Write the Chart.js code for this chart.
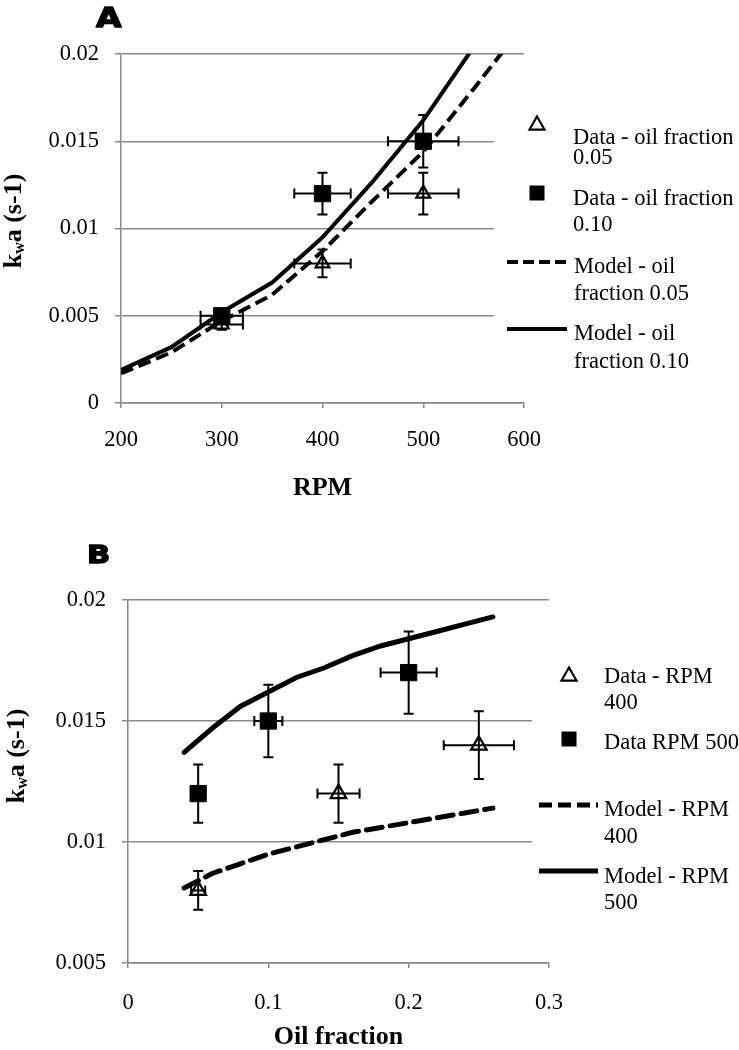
<!DOCTYPE html>
<html><head><meta charset="utf-8">
<script src="https://cdn.jsdelivr.net/npm/chart.js@4/dist/chart.umd.min.js"></script>
<style>
html,body{margin:0;padding:0;background:#fff;}
#wrap{position:relative;width:739px;height:1050px;background:#fff;}
canvas{position:absolute;left:0;}
#cA{top:0}
#cB{top:520px}
</style></head><body>
<div id="wrap">
<canvas id="cA" width="739" height="520"></canvas>
<canvas id="cB" width="739" height="530"></canvas>
</div>
<script>
// ---------- Panel A data ----------
const rpmModel      = [200, 250, 300, 350, 400, 450, 500, 550, 600];
const modelOil005   = [0.0017, 0.0029, 0.0047, 0.0062, 0.0087, 0.0116, 0.0144, 0.0180, 0.0217];
const modelOil010   = [0.0019, 0.0032, 0.0052, 0.0069, 0.0095, 0.0127, 0.0162, 0.0204, null];
const rpmData       = [300, 400, 500];
const dataOil005    = [0.0045, 0.008, 0.012];
const dataOil005Err = [0.0003, 0.0008, 0.0012];
const dataOil010    = [0.005, 0.012, 0.015];
const dataOil010Err = [0.0003, 0.0012, 0.0015];
const rpmErr        = [21, 28, 35];
const xTicksA = [200, 300, 400, 500, 600];
const yTicksA = [0, 0.005, 0.01, 0.015, 0.02];

// ---------- Panel B data ----------
const oilModel      = [0.04, 0.06, 0.08, 0.10, 0.12, 0.14, 0.16, 0.18, 0.20, 0.22, 0.24, 0.26];
const modelRpm400   = [0.0081, 0.0087, 0.0091, 0.0095, 0.0098, 0.0101, 0.0104, 0.0106, 0.0108, 0.0110, 0.0112, 0.0114];
const modelRpm500   = [0.0137, 0.0147, 0.0156, 0.0162, 0.0168, 0.0172, 0.0177, 0.0181, 0.0184, 0.0187, 0.0190, 0.0193];
const oilData400    = [0.05, 0.15, 0.25];
const dataRpm400    = [0.008, 0.012, 0.014];
const dataRpm400Err = [0.0008, 0.0012, 0.0014];
const oilErr400     = [0.005, 0.015, 0.025];
const oilData500    = [0.05, 0.10, 0.20];
const dataRpm500    = [0.012, 0.015, 0.017];
const dataRpm500Err = [0.0012, 0.0015, 0.0017];
const oilErr500     = [0.005, 0.01, 0.02];
const xTicksB = [0, 0.1, 0.2, 0.3];
const yTicksB = [0.005, 0.01, 0.015, 0.02];

const legendA = [["Data - oil fraction", "0.05"], ["Data - oil fraction", "0.10"], ["Model - oil", "fraction 0.05"], ["Model - oil", "fraction 0.10"]];
const legendB = [["Data - RPM", "400"], ["Data RPM 500"], ["Model - RPM", "400"], ["Model - RPM", "500"]];

const SERIF = "'Liberation Serif','Times New Roman',serif";
const GRAY = '#8a8a8a';

const pts = (xs, ys) => xs.map((x, i) => ({x, y: ys[i]}));

const errorBars = {
  id: 'errorBars',
  afterDatasetsDraw(chart) {
    const ctx = chart.ctx, xs = chart.scales.x, ys = chart.scales.y;
    chart.data.datasets.forEach(ds => {
      if (!ds.errX) return;
      ctx.save();
      ctx.strokeStyle = '#000';
      ctx.lineWidth = 2;
      ds.data.forEach((p, j) => {
        const cx = xs.getPixelForValue(p.x), cy = ys.getPixelForValue(p.y);
        const x1 = xs.getPixelForValue(p.x - ds.errX[j]), x2 = xs.getPixelForValue(p.x + ds.errX[j]);
        const y1 = ys.getPixelForValue(p.y + ds.errY[j]), y2 = ys.getPixelForValue(p.y - ds.errY[j]);
        const c = 5;
        ctx.beginPath();
        ctx.moveTo(x1, cy); ctx.lineTo(x2, cy);
        ctx.moveTo(x1, cy - c); ctx.lineTo(x1, cy + c);
        ctx.moveTo(x2, cy - c); ctx.lineTo(x2, cy + c);
        ctx.moveTo(cx, y1); ctx.lineTo(cx, y2);
        ctx.moveTo(cx - c, y1); ctx.lineTo(cx + c, y1);
        ctx.moveTo(cx - c, y2); ctx.lineTo(cx + c, y2);
        ctx.stroke();
      });
      ctx.restore();
    });
  }
};

function drawYTitle(ctx, x, yc, size) {
  const main = `bold ${size}px ${SERIF}`, sub = `bold ${Math.round(size * 0.62)}px ${SERIF}`;
  const parts = [['k', main, 0], ['w', sub, size * 0.12], ['a (s-1)', main, 0]];
  let w = 0;
  parts.forEach(p => { ctx.font = p[1]; w += ctx.measureText(p[0]).width; });
  ctx.save();
  ctx.translate(x, yc);
  ctx.rotate(-Math.PI / 2);
  ctx.fillStyle = '#000';
  ctx.textBaseline = 'alphabetic';
  ctx.textAlign = 'left';
  let cx = -w / 2;
  parts.forEach(p => { ctx.font = p[1]; ctx.fillText(p[0], cx, p[2]); cx += ctx.measureText(p[0]).width; });
  ctx.restore();
}

function drawTri(ctx, x, y, w) {
  const h = w * 0.87;
  ctx.save();
  ctx.beginPath();
  ctx.moveTo(x, y - h / 2); ctx.lineTo(x + w / 2, y + h / 2); ctx.lineTo(x - w / 2, y + h / 2); ctx.closePath();
  ctx.fillStyle = '#fff'; ctx.fill();
  ctx.lineWidth = 2.2; ctx.strokeStyle = '#000'; ctx.stroke();
  ctx.restore();
}
function drawSq(ctx, x, y, s) {
  ctx.fillStyle = '#000';
  ctx.fillRect(x - s / 2, y - s / 2, s, s);
}
function drawLineSym(ctx, x1, x2, y, lw, dash) {
  ctx.save();
  ctx.beginPath();
  ctx.setLineDash(dash);
  ctx.lineWidth = lw; ctx.strokeStyle = '#000';
  ctx.moveTo(x1, y); ctx.lineTo(x2, y); ctx.stroke();
  ctx.restore();
}

function overlay(cfg) {
  return {
    id: 'overlay',
    beforeDatasetsDraw(chart) {
      const ctx = chart.ctx;
      ctx.save();
      ctx.fillStyle = '#fff';
      ctx.fillRect(cfg.cover[0], cfg.cover[1], cfg.cover[2], cfg.cover[3]);
      ctx.restore();
    },
    afterDraw(chart) {
      const ctx = chart.ctx;
      const a = chart.chartArea;
      ctx.save();
      ctx.fillStyle = '#000';
      // panel letter
      ctx.save();
      ctx.translate(cfg.letter[1], cfg.letter[2]);
      ctx.scale(1.22, 1);
      ctx.font = `bold ${cfg.letter[3]}px 'DejaVu Sans', sans-serif`;
      ctx.textBaseline = 'alphabetic';
      ctx.textAlign = 'left';
      ctx.lineWidth = 1.4;
      ctx.strokeStyle = '#000';
      ctx.lineJoin = 'round';
      ctx.strokeText(cfg.letter[0], 0, 0);
      ctx.fillText(cfg.letter[0], 0, 0);
      ctx.restore();
      // x title
      ctx.font = `bold 26px ${SERIF}`;
      ctx.textAlign = 'center';
      ctx.textBaseline = 'alphabetic';
      ctx.fillText(cfg.xTitle, (a.left + a.right) / 2, cfg.xTitleY);
      // y title
      drawYTitle(ctx, cfg.yTitle[0], cfg.yTitle[1], 26);
      // legend
      ctx.textAlign = 'left';
      cfg.legend.forEach((e, i) => {
        const it = cfg.items[i];
        if (it.sym === 'tri') drawTri(ctx, it.sx, it.sy, 15);
        else if (it.sym === 'sq') drawSq(ctx, it.sx, it.sy, 15);
        else drawLineSym(ctx, it.sx, it.sx2, it.sy, it.lw, it.sym === 'dash' ? it.dash : []);
        ctx.fillStyle = '#000';
        ctx.font = `22.5px ${SERIF}`;
        e.forEach((t, k) => ctx.fillText(t, it.tx, it.ty[k]));
      });
      ctx.restore();
    }
  };
}

function makeChart(id, o) {
  return new Chart(document.getElementById(id), {
    type: 'scatter',
    data: { datasets: o.datasets },
    options: {
      responsive: false,
      animation: false,
      devicePixelRatio: 1,
      layout: { padding: { left: 0, top: o.top, right: o.right, bottom: 0 } },
      plugins: { legend: { display: false }, tooltip: { enabled: false } },
      scales: {
        x: {
          type: 'linear', min: o.xMin, max: o.xMax,
          afterBuildTicks: s => { s.ticks = o.xTicks.map(v => ({value: v})); },
          afterFit: s => { s.height = o.xH; },
          ticks: { color: '#000', font: { family: SERIF, size: 22.5 }, padding: o.xPad, maxRotation: 0, autoSkip: false, callback: v => String(v) },
          grid: { drawOnChartArea: false, drawTicks: true, tickLength: 5, color: GRAY, lineWidth: 1.5 },
          border: { color: GRAY, width: 1.5 }
        },
        y: {
          type: 'linear', min: o.yMin, max: o.yMax,
          afterBuildTicks: s => { s.ticks = o.yTicks.map(v => ({value: v})); },
          afterFit: s => { s.width = o.yW; },
          ticks: { color: '#000', font: { family: SERIF, size: 22.5 }, padding: 16, autoSkip: false, callback: v => String(v) },
          grid: { drawOnChartArea: true, drawTicks: true, tickLength: 6, color: GRAY, lineWidth: 1.5 },
          border: { color: GRAY, width: 1.5 }
        }
      }
    },
    plugins: [errorBars, overlay(o.overlay)]
  });
}

// ---------- Chart A ----------
makeChart('cA', {
  top: 54, right: 215, xH: 117, yW: 121, xPad: 19,
  xMin: 200, xMax: 600, yMin: 0, yMax: 0.02, xTicks: xTicksA, yTicks: yTicksA,
  datasets: [
    { label: 'Model - oil fraction 0.05', data: pts(rpmModel, modelOil005), showLine: true, borderColor: '#000', borderWidth: 4, borderDash: [13, 6], pointRadius: 0, clip: 0, order: 3 },
    { label: 'Model - oil fraction 0.10', data: pts(rpmModel, modelOil010), showLine: true, borderColor: '#000', borderWidth: 4, pointRadius: 0, clip: 0, order: 3 },
    { label: 'Data - oil fraction 0.05', data: pts(rpmData, dataOil005), pointStyle: 'triangle', pointRadius: 8, backgroundColor: '#fff', borderColor: '#000', borderWidth: 2.2, errX: rpmErr, errY: dataOil005Err, order: 2 },
    { label: 'Data - oil fraction 0.10', data: pts(rpmData, dataOil010), pointStyle: 'rect', pointRadius: 11.5, backgroundColor: '#000', borderColor: '#000', borderWidth: 1, errX: rpmErr, errY: dataOil010Err, order: 1 }
  ],
  overlay: {
    cover: [494, 95, 40, 306],
    letter: ['A', 96, 27, 27],
    xTitle: 'RPM', xTitleY: 495,
    yTitle: [21, 221],
    legend: legendA,
    items: [
      { sym: 'tri', sx: 537, sy: 123, tx: 573, ty: [144, 164] },
      { sym: 'sq', sx: 537, sy: 193, tx: 573, ty: [205, 231] },
      { sym: 'dash', sx: 507, sx2: 567, sy: 262, lw: 4, dash: [11, 5], tx: 574, ty: [273, 300] },
      { sym: 'solid', sx: 507, sx2: 567, sy: 329, lw: 4, tx: 574, ty: [340, 368] }
    ]
  }
});

// ---------- Chart B ----------
makeChart('cB', {
  top: 80, right: 190, xH: 87, yW: 128, xPad: 22,
  xMin: 0, xMax: 0.3, yMin: 0.005, yMax: 0.02, xTicks: xTicksB, yTicks: yTicksB,
  datasets: [
    { label: 'Model - RPM 400', data: pts(oilModel, modelRpm400), showLine: true, borderColor: '#000', borderWidth: 5, borderDash: [16, 8], borderCapStyle: 'round', pointRadius: 0, clip: 0, order: 3 },
    { label: 'Model - RPM 500', data: pts(oilModel, modelRpm500), showLine: true, borderColor: '#000', borderWidth: 5, borderCapStyle: 'round', pointRadius: 0, clip: 0, order: 3 },
    { label: 'Data - RPM 400', data: pts(oilData400, dataRpm400), pointStyle: 'triangle', pointRadius: 9, backgroundColor: '#fff', borderColor: '#000', borderWidth: 2.2, errX: oilErr400, errY: dataRpm400Err, order: 2 },
    { label: 'Data RPM 500', data: pts(oilData500, dataRpm500), pointStyle: 'rect', pointRadius: 11.5, backgroundColor: '#000', borderColor: '#000', borderWidth: 1, errX: oilErr500, errY: dataRpm500Err, order: 1 }
  ],
  overlay: {
    cover: [532, 110, 20, 330],
    letter: ['B', 87, 43, 25],
    xTitle: 'Oil fraction', xTitleY: 524,
    yTitle: [24, 236],
    legend: legendB,
    items: [
      { sym: 'tri', sx: 569, sy: 154, tx: 604, ty: [163, 189] },
      { sym: 'sq', sx: 569, sy: 219, tx: 604, ty: [229] },
      { sym: 'dash', sx: 539, sx2: 598, sy: 285, lw: 5, dash: [13, 6], tx: 604, ty: [296, 323] },
      { sym: 'solid', sx: 539, sx2: 598, sy: 351, lw: 5, tx: 604, ty: [363, 389] }
    ]
  }
});
</script>
</body></html>
